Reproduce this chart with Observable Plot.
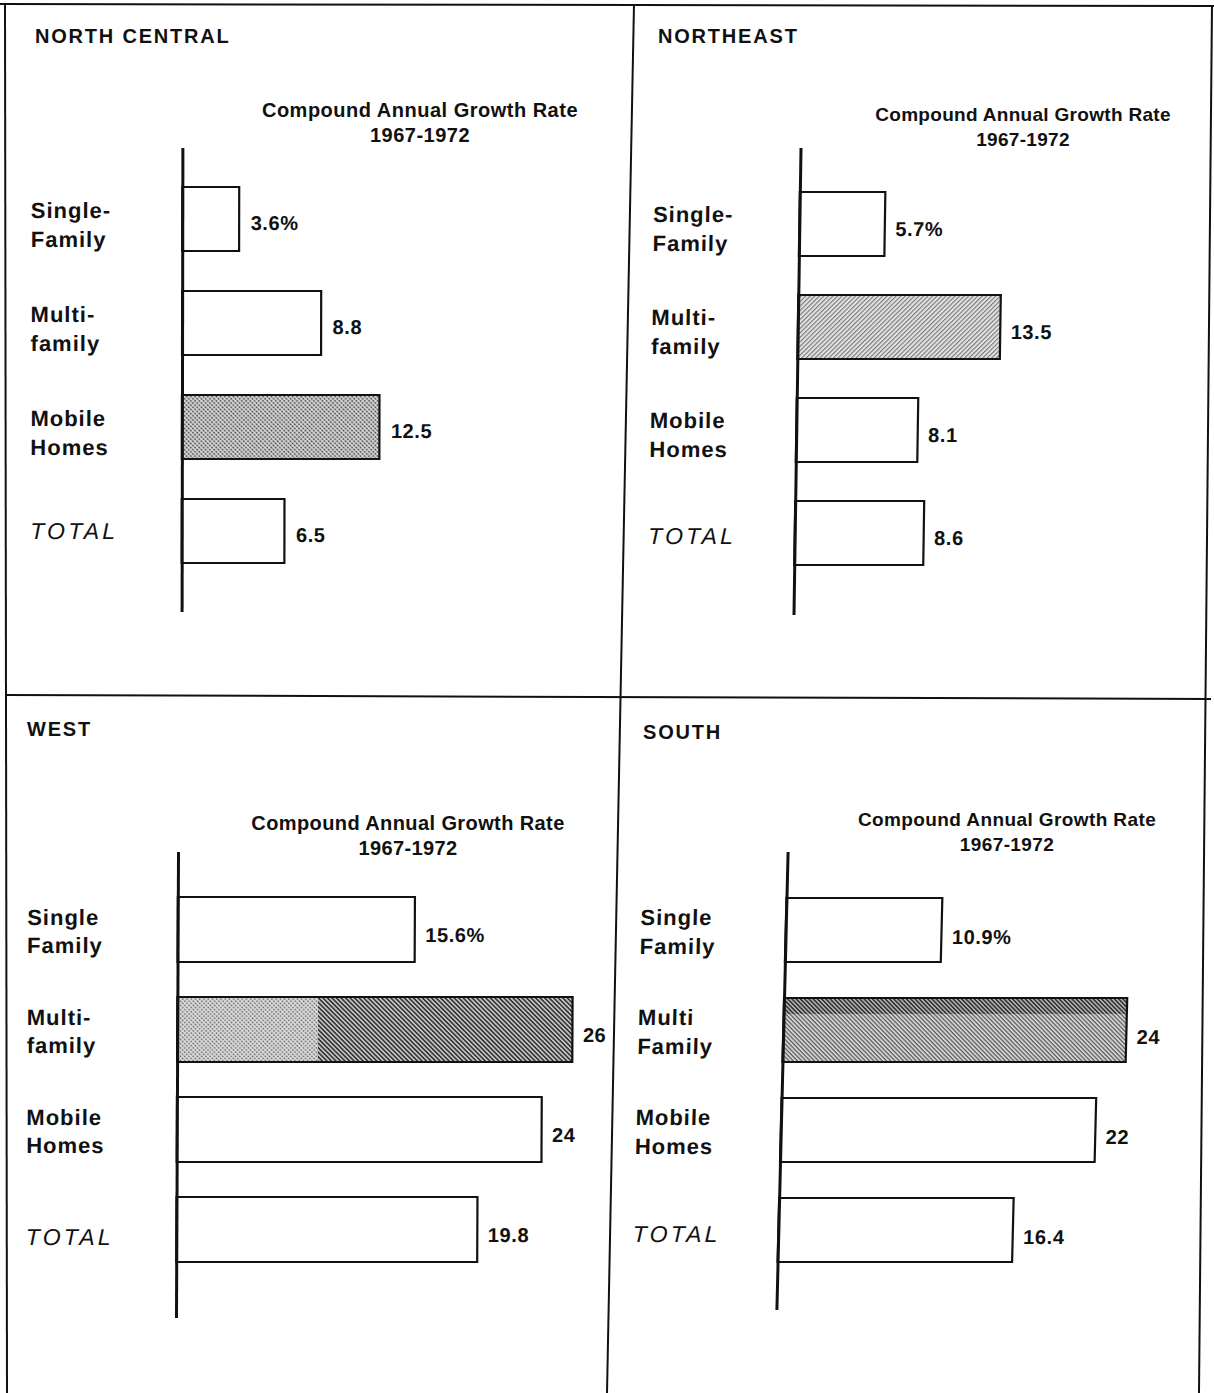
<!DOCTYPE html>
<html>
<head>
<meta charset="utf-8">
<script src="https://cdn.jsdelivr.net/npm/d3@7"></script>
<script src="https://cdn.jsdelivr.net/npm/@observablehq/plot@0.6"></script>
<style>
  body { margin: 0; background: #fff; }
  #page { position: relative; width: 1214px; height: 1393px; overflow: hidden;
          font-family: "Liberation Sans", Arial, Helvetica, sans-serif; color: #111; background: #fff; }
  #page svg.panel, #page svg.frame { position: absolute; left: 0; top: 0; }
  .region { position: absolute; font-weight: bold; font-size: 20px; line-height: 20px;
            letter-spacing: 1.8px; white-space: nowrap; }
  .subtitle { position: absolute; font-weight: bold; line-height: 25px; text-align: center;
              white-space: nowrap; transform: translateX(-50%); }
</style>
</head>
<body>
<div id="page"></div>
<script>
// Regional housing growth, compound annual growth rate 1967-1972 (percent)
const regions = ["NORTH CENTRAL", "NORTHEAST", "WEST", "SOUTH"];
const housingTypes = ["Single-Family", "Multi-family", "Mobile Homes", "TOTAL"];
const subtitleLines = ["Compound Annual Growth Rate", "1967-1972"];

const northCentralLabels = ["Single-\nFamily", "Multi-\nfamily", "Mobile\nHomes", "TOTAL"];
const northeastLabels    = ["Single-\nFamily", "Multi-\nfamily", "Mobile\nHomes", "TOTAL"];
const westLabels         = ["Single\nFamily", "Multi-\nfamily", "Mobile\nHomes", "TOTAL"];
const southLabels        = ["Single\nFamily", "Multi\nFamily", "Mobile\nHomes", "TOTAL"];

const northCentralGrowth = [3.6, 8.8, 12.5, 6.5];
const northeastGrowth    = [5.7, 13.5, 8.1, 8.6];
const westGrowth         = [15.6, 26, 24, 19.8];
const southGrowth        = [10.9, 24, 22, 16.4];

const panels = [
  { region: regions[0], labels: northCentralLabels, values: northCentralGrowth },
  { region: regions[1], labels: northeastLabels,    values: northeastGrowth },
  { region: regions[2], labels: westLabels,         values: westGrowth },
  { region: regions[3], labels: southLabels,        values: southGrowth }
];

// Page geometry and styling of each quadrant
const layout = [
  { key: "nc", titleX: 35,  titleBase: 43,  subX: 420,  subBase: 117, subSize: 20, subSpacing: 0.5,
    axisX: 182, top: 148, bottom: 612, barTop: 187, step: 104, band: 64, k: 15.8,
    labelX: 30, labelDy: 4, totalDy: 0, valueDx: 11, valueDy: 4, lean: 0.1, shade: "dots" },
  { key: "ne", titleX: 658, titleBase: 43,  subX: 1023, subBase: 121, subSize: 19, subSpacing: 0.3,
    axisX: 797, top: 148, bottom: 615, barTop: 191, step: 103.5, band: 64, k: 15.0,
    labelX: 650, labelDy: 3, totalDy: 3, valueDx: 10, valueDy: 5, lean: 0.86, shade: "hatchUp" },
  { key: "w",  titleX: 27,  titleBase: 736, subX: 408,  subBase: 830, subSize: 20, subSpacing: 0.4,
    axisX: 177, top: 852, bottom: 1318, barTop: 896, step: 100.7, band: 65, k: 15.2,
    labelX: 26, labelDy: 0, totalDy: 8, valueDx: 10, valueDy: 6, lean: 0.25, shade: "split", split: 0.356 },
  { key: "s",  titleX: 643, titleBase: 739, subX: 1007, subBase: 826, subSize: 19, subSpacing: 0.4,
    axisX: 782, top: 852, bottom: 1310, barTop: 897, step: 100.5, band: 64, k: 14.3,
    labelX: 636, labelDy: 0, totalDy: 4, valueDx: 10, valueDy: 7, lean: 1.4, shade: "strip", stripInset: 48 }
];

const W = 1214, H = 1393;
const page = d3.select("#page");
const INK = "#111";

// Ruled frame separating the four regions
const frame = page.append("svg").attr("class", "frame").attr("width", W).attr("height", H);
[
  [0, 4, 1214, 6], [5, 4, 7, 1393], [1212, 5, 1199, 1393],
  [634, 4, 607, 1393], [5, 695, 1211, 699]
].forEach(([x1, y1, x2, y2]) =>
  frame.append("line").attr("x1", x1).attr("y1", y1).attr("x2", x2).attr("y2", y2)
    .attr("stroke", INK).attr("stroke-width", 2));

// Screen tints used for the fastest-growing housing type
function hatch(defs, id, angle, period, lineW, bg, ink) {
  const p = defs.append("pattern").attr("id", id).attr("patternUnits", "userSpaceOnUse")
    .attr("width", period).attr("height", period).attr("patternTransform", `rotate(${angle})`);
  p.append("rect").attr("width", period).attr("height", period).attr("fill", bg);
  p.append("rect").attr("width", period).attr("height", lineW).attr("fill", ink);
}
function screen(defs, id, period, r, bg, ink) {
  const p = defs.append("pattern").attr("id", id).attr("patternUnits", "userSpaceOnUse")
    .attr("width", period).attr("height", period).attr("patternTransform", "rotate(45)");
  p.append("rect").attr("width", period).attr("height", period).attr("fill", bg);
  p.append("circle").attr("cx", period / 2).attr("cy", period / 2).attr("r", r).attr("fill", ink);
}
function addPatterns(svg, L) {
  const defs = d3.select(svg).insert("defs", ":first-child");
  const id = L.key;
  if (L.shade === "dots") screen(defs, `${id}-main`, 3, 0.95, "#d6d6d6", "#4a4a4a");
  if (L.shade === "hatchUp") hatch(defs, `${id}-main`, -45, 3.2, 1.1, "#e2e2e2", "#777");
  if (L.shade === "split") {
    hatch(defs, `${id}-main`, 45, 3.2, 1.5, "#c4c4c4", "#2e2e2e");
    screen(defs, `${id}-light`, 3, 0.85, "#dadada", "#6a6a6a");
  }
  if (L.shade === "strip") {
    hatch(defs, `${id}-main`, 45, 3, 1.2, "#d4d4d4", "#5a5a5a");
    hatch(defs, `${id}-dark`, 45, 3, 1.6, "#b8b8b8", "#333");
  }
}

const valueText = (v, i) => (i === 0 ? `${v}%` : `${v}`);

panels.forEach((panel, pi) => {
  const L = layout[pi];
  const maxValue = d3.max(panel.values);
  const rows = panel.values.map((value, i) => ({
    type: housingTypes[i], label: panel.labels[i], value,
    text: valueText(value, i), shaded: value === maxValue
  }));
  const plain = rows.filter(d => !d.shaded);
  const shaded = rows.filter(d => d.shaded);
  const named = rows.filter(d => d.type !== "TOTAL");
  const total = rows.filter(d => d.type === "TOTAL");
  const xMax = 30;

  const marks = [
    Plot.barX(plain, { x: "value", y: "type", fill: "white", stroke: INK, strokeWidth: 2.2 }),
    Plot.barX(shaded, { x: "value", y: "type", fill: `url(#${L.key}-main)` })
  ];
  if (L.shade === "split")
    marks.push(Plot.barX(shaded, { x1: () => 0, x2: d => d.value * L.split, y: "type", fill: `url(#${L.key}-light)` }));
  if (L.shade === "strip")
    marks.push(Plot.barX(shaded, { x: "value", y: "type", fill: `url(#${L.key}-dark)`, insetBottom: L.stripInset }));
  marks.push(
    Plot.barX(shaded, { x: "value", y: "type", fill: "none", stroke: INK, strokeWidth: 2.2 }),
    Plot.ruleX([0], { stroke: INK, strokeWidth: 3 }),
    Plot.text(named, {
      x: () => 0, y: "type", text: "label", textAnchor: "start", lineAnchor: "middle",
      dx: L.labelX - L.axisX, dy: L.labelDy, lineHeight: 1.3,
      fontSize: 22, fontWeight: "bold", fill: INK
    }),
    Plot.text(total, {
      x: () => 0, y: "type", text: "label", textAnchor: "start", lineAnchor: "middle",
      dx: L.labelX - L.axisX, dy: L.totalDy, fontSize: 23, fontStyle: "italic",
      fontWeight: "normal", fill: INK
    }),
    Plot.text(rows, {
      x: "value", y: "type", text: "text", textAnchor: "start", lineAnchor: "middle",
      dx: L.valueDx, dy: L.valueDy, fontSize: 20, fontWeight: "bold", fill: INK
    })
  );

  const svg = Plot.plot({
    width: W, height: H,
    marginTop: L.top, marginBottom: H - L.bottom, marginLeft: L.axisX, marginRight: 0,
    x: { domain: [0, xMax], range: [L.axisX, L.axisX + xMax * L.k], axis: null },
    y: { type: "band", domain: housingTypes, axis: null,
         range: [L.barTop, L.barTop + L.step * (housingTypes.length - (1 - L.band / L.step))],
         paddingInner: 1 - L.band / L.step, paddingOuter: 0 },
    style: { fontFamily: '"Liberation Sans", Arial, Helvetica, sans-serif', background: "transparent", overflow: "visible" },
    marks
  });
  svg.classList.add("panel");
  addPatterns(svg, L);

  // Tracking of the label families, told apart by their text
  const valueSet = new Set(rows.map(d => d.text));
  d3.select(svg).selectAll("text").each(function () {
    const t = this.textContent.trim();
    const s = t === "TOTAL" ? "3.2px" : valueSet.has(t) ? "0.6px" : "1px";
    d3.select(this).style("letter-spacing", s);
  });

  // Slight lean of the vertical rule in each quadrant
  d3.select(svg)
    .style("transform-origin", `${L.axisX}px ${(L.top + L.bottom) / 2}px`)
    .style("transform", `skewX(${-L.lean}deg)`);
  page.node().appendChild(svg);

  // Region name and rate heading
  page.append("div").attr("class", "region")
    .style("left", `${L.titleX}px`).style("top", `${L.titleBase - 17}px`)
    .text(panel.region);
  const sub = page.append("div").attr("class", "subtitle")
    .style("left", `${L.subX}px`)
    .style("top", `${L.subBase - 12.5 - 0.3465 * L.subSize}px`)
    .style("font-size", `${L.subSize}px`)
    .style("letter-spacing", `${L.subSpacing}px`);
  subtitleLines.forEach(line => sub.append("div").text(line));
});
</script>
</body>
</html>
